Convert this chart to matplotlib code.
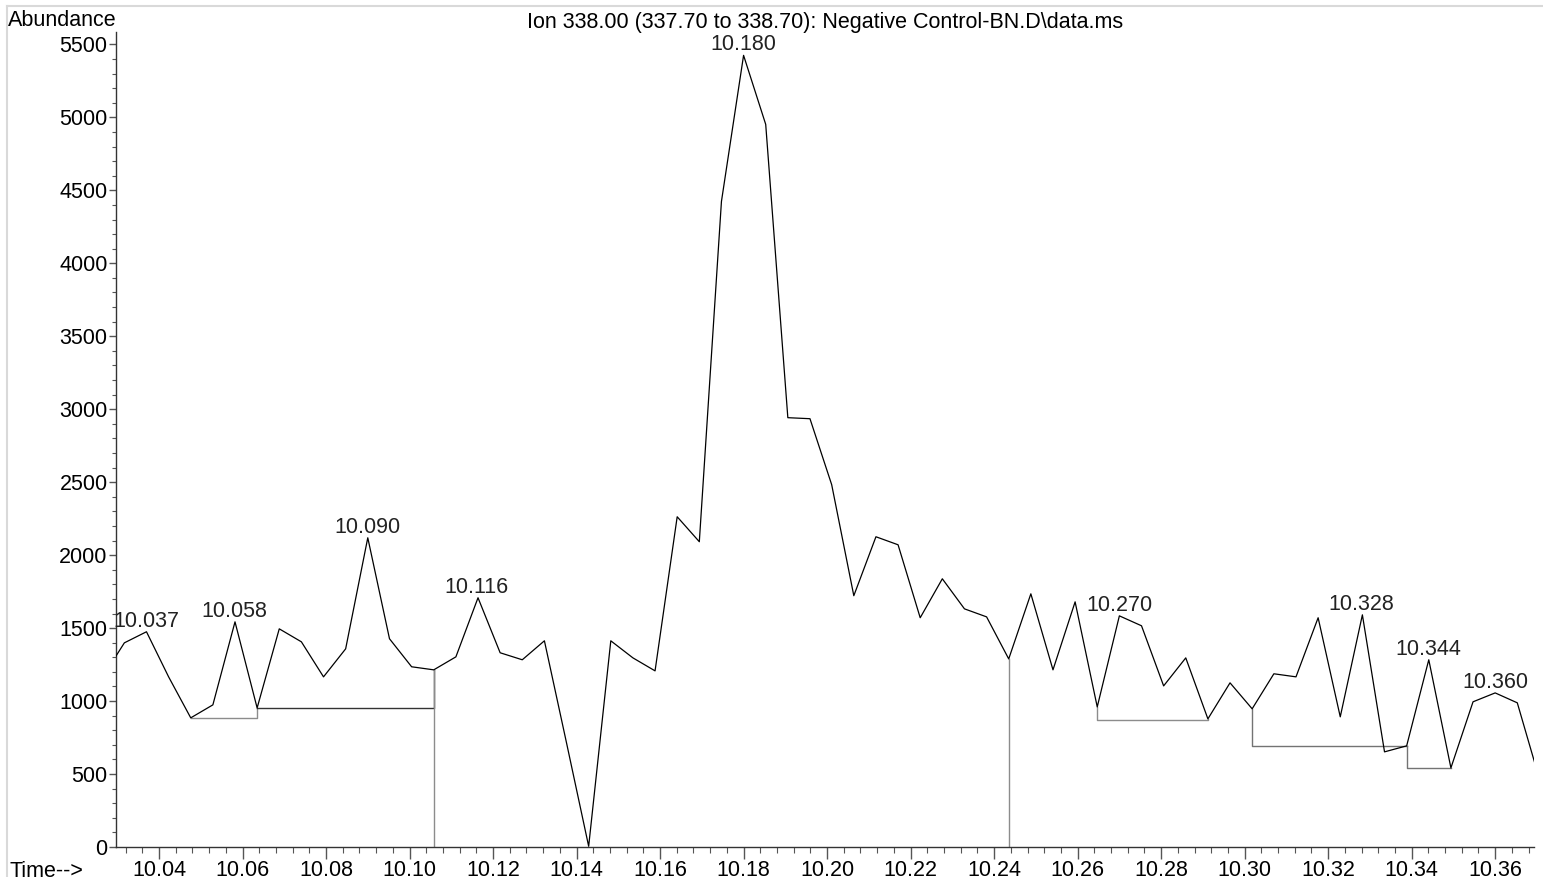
import matplotlib.pyplot as plt
from matplotlib.ticker import MultipleLocator
from matplotlib.lines import Line2D

plt.rcParams['font.family'] = ['Liberation Sans', 'DejaVu Sans']

# retention time (min) of each scan
times = [10.0264, 10.0317, 10.0370, 10.0423, 10.0476, 10.0529, 10.0582, 10.0635,
         10.0688, 10.0741, 10.0794, 10.0847, 10.0900, 10.0952, 10.1005, 10.1058,
         10.1111, 10.1164, 10.1217, 10.1270, 10.1323, 10.1376, 10.1429, 10.1482,
         10.1535, 10.1588, 10.1641, 10.1694, 10.1747, 10.1800, 10.1853, 10.1906,
         10.1959, 10.2011, 10.2064, 10.2117, 10.2170, 10.2223, 10.2276, 10.2329,
         10.2382, 10.2435, 10.2488, 10.2541, 10.2594, 10.2647, 10.2700, 10.2753,
         10.2806, 10.2859, 10.2912, 10.2965, 10.3018, 10.3070, 10.3123, 10.3176,
         10.3229, 10.3282, 10.3335, 10.3388, 10.3441, 10.3494, 10.3547, 10.3600,
         10.3653, 10.3706]
# abundance of ion 338
abundance = [1160, 1399, 1475, 1166, 885, 974, 1543, 953,
             1495, 1406, 1166, 1358, 2119, 1427, 1235, 1214,
             1303, 1708, 1331, 1283, 1413, 713, 5, 1413,
             1296, 1207, 2263, 2092, 4424, 5425, 4952, 2942,
             2935, 2483, 1722, 2126, 2071, 1571, 1838, 1632,
             1577, 1289, 1735, 1214, 1680, 960, 1584, 1516,
             1104, 1296, 878, 1125, 947, 1187, 1166, 1571,
             892, 1591, 652, 693, 1283, 542, 995, 1056,
             988, 466]

# labelled peaks
peak_labels = ['10.037', '10.058', '10.090', '10.116', '10.180', '10.270',
               '10.328', '10.344', '10.360']

# integration baselines: start time, end time, baseline level, colour
base_start = [10.0476, 10.0635, 10.2647, 10.3018, 10.3388]
base_end = [10.0635, 10.1058, 10.2912, 10.3388, 10.3494]
base_level = [885, 953, 871, 693, 542]
base_color = ['0.55', '0.2', '0.55', '0.45', '0.45']

# split markers dropped to the time axis
splits = [10.1058, 10.2435]

fig = plt.figure(figsize=(15.43, 8.77), dpi=100)
ax = fig.add_axes([116 / 1543, 1 - 847 / 877, (1534 - 116) / 1543, (847 - 32) / 877])

ax.plot(times, abundance, color='k', lw=0.9, zorder=3)


def level_at(t):
    i = min(range(len(times)), key=lambda j: abs(times[j] - t))
    return abundance[i]


for t0, t1, lv, c in zip(base_start, base_end, base_level, base_color):
    ax.plot([t0, t0, t1, t1], [level_at(t0), lv, lv, level_at(t1)],
            color=c, lw=1.0, zorder=2)

for t in splits:
    ax.plot([t, t], [0, level_at(t)], color='0.55', lw=1.0, zorder=2)

for lab in peak_labels:
    t = float(lab)
    ax.annotate(lab, xy=(t, level_at(t)), xytext=(0, 0), textcoords='offset points',
                ha='center', va='bottom', fontsize=15.5, color='#222222')

ax.set_xlim(10.0297, 10.3693)
ax.set_ylim(0, 5585)
ax.xaxis.set_major_locator(MultipleLocator(0.02))
ax.xaxis.set_minor_locator(MultipleLocator(0.004))
ax.yaxis.set_major_locator(MultipleLocator(500))
ax.yaxis.set_minor_locator(MultipleLocator(100))
ax.xaxis.set_major_formatter(lambda v, p: f'{v:.2f}')
ax.yaxis.set_major_formatter(lambda v, p: f'{v:.0f}')

for s in ['top', 'right']:
    ax.spines[s].set_visible(False)
for s in ['left', 'bottom']:
    ax.spines[s].set_color('#333333')
    ax.spines[s].set_linewidth(1.0)

ax.tick_params(axis='x', which='major', length=8.5, width=1, pad=1, labelsize=15.5, color='#555555')
ax.tick_params(axis='x', which='minor', length=4.5, width=0.8, color='#555555')
ax.tick_params(axis='y', which='major', length=5, width=1, pad=1, labelsize=15.5, color='#555555')
ax.tick_params(axis='y', which='minor', length=3, width=0.8, color='#555555')

fig.text(825 / 1543, 1 - 28 / 877, 'Ion 338.00 (337.70 to 338.70): Negative Control-BN.D\\data.ms',
         ha='center', va='baseline', fontsize=15.5)
fig.text(8 / 1543, 1 - 26 / 877, 'Abundance', ha='left', va='baseline', fontsize=15.5)
fig.text(9 / 1543, 1 - 861 / 877, 'Time-->', ha='left', va='top', fontsize=15.5)

# light frame on the top and left edges
fig.add_artist(Line2D([7 / 1543, 1], [1 - 6 / 877, 1 - 6 / 877], color='0.85', lw=1.5))
fig.add_artist(Line2D([7 / 1543, 7 / 1543], [0, 1 - 6 / 877], color='0.85', lw=1.5))

fig.savefig('out.png', dpi=100)
